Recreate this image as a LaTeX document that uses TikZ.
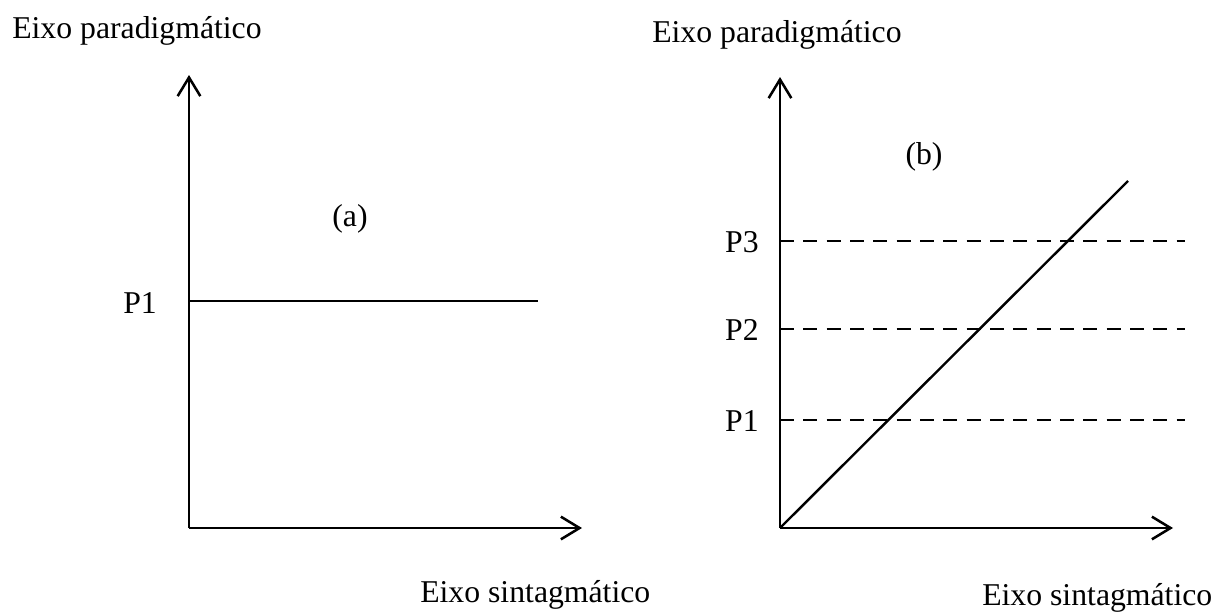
\documentclass[tikz,border=0pt]{standalone}
\usepackage{fontspec}
\setmainfont{Liberation Serif}
\usetikzlibrary{arrows.meta}
\begin{document}
\begin{tikzpicture}[x=0.75pt,y=-0.75pt,
  axis/.style={line width=1.9pt,-{Straight Barb[length=14pt,width=17pt,line width=1.9pt]}},
  plain/.style={line width=1.8pt},
  dashline/.style={line width=1.8pt,dash pattern=on 10.5pt off 7pt},
  lbl/.style={inner sep=0pt,font=\fontsize{23.8}{28}\selectfont}]
\useasboundingbox (0,0) rectangle (1214,614);
% left diagram
\coordinate (oa) at (189,528);
\coordinate (ya) at (189,75);
\coordinate (xa) at (582,528);
\coordinate (pa1) at (189,301);
\coordinate (pa1e) at (538,301);
\draw[axis] (oa) -- (ya);
\draw[axis] (oa) -- (xa);
\draw[plain] (pa1) -- (pa1e);
\node[lbl,anchor=base west] (tpa) at (12,38) {Eixo paradigmático};
\node[lbl,anchor=base west] (tsa) at (420,602) {Eixo sintagmático};
\node[lbl,anchor=center] (la) at (350,219) {(a)};
\node[lbl,anchor=base west] (lp1a) at (123,313) {P1};
% right diagram
\coordinate (ob) at (780,528);
\coordinate (yb) at (780,77);
\coordinate (xb) at (1173,528);
\coordinate (db) at (1128,181);
\coordinate (p3s) at (780,241);
\coordinate (p3e) at (1185,241);
\coordinate (p2s) at (780,329);
\coordinate (p2e) at (1185,329);
\coordinate (p1s) at (780,420);
\coordinate (p1e) at (1185,420);
\draw[axis] (ob) -- (yb);
\draw[axis] (ob) -- (xb);
\draw[plain] (ob) -- (db);
\draw[dashline] (p3s) -- (p3e);
\draw[dashline] (p2s) -- (p2e);
\draw[dashline] (p1s) -- (p1e);
\node[lbl,anchor=base west] (tpb) at (652,42) {Eixo paradigmático};
\node[lbl,anchor=base west] (tsb) at (982,605) {Eixo sintagmático};
\node[lbl,anchor=center] (lb) at (924,157) {(b)};
\node[lbl,anchor=base east] (lp3) at (759,252) {P3};
\node[lbl,anchor=base east] (lp2) at (759,340) {P2};
\node[lbl,anchor=base east] (lp1) at (759,431) {P1};
\end{tikzpicture}
\end{document}
